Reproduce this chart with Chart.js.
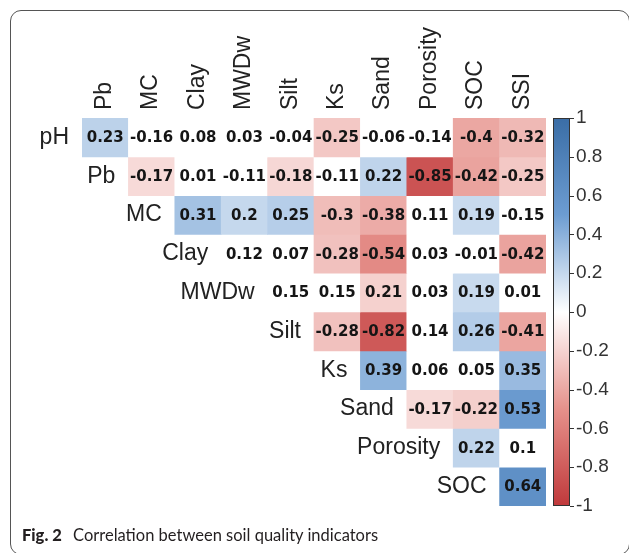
<!DOCTYPE html>
<html>
<head>
<meta charset="utf-8">
<script src="https://cdn.jsdelivr.net/npm/chart.js@4"></script>
<style>
  html, body { margin: 0; padding: 0; background: #fff; overflow: hidden; }
  #wrap { position: relative; width: 629px; height: 553px; overflow: hidden; }
  #frame { position: absolute; left: 10px; top: 10px; width: 620px; height: 545px; border: 1.5px solid #555; border-radius: 11px; box-sizing: border-box; }
  #chart { position: absolute; left: 0; top: 0; }
  #caption { position: absolute; left: 22px; top: 525px; font-family: Lato; font-size: 16.5px; color: #231f20; white-space: nowrap; }
  #caption b { margin-right: 7px; font-weight: 900; }
</style>
</head>
<body>
<div id="wrap">
  <div id="frame"></div>
  <canvas id="chart" width="629" height="553"></canvas>
  <div id="caption"><b>Fig. 2</b> Correlation between soil quality indicators</div>
</div>
<script>
document.addEventListener("DOMContentLoaded", () => {
    // row and column names of the upper triangle
    const rowNames = ["pH", "Pb", "MC", "Clay", "MWDw", "Silt", "Ks", "Sand", "Porosity", "SOC"];
    const colNames = ["Pb", "MC", "Clay", "MWDw", "Silt", "Ks", "Sand", "Porosity", "SOC", "SSI"];
    const cbTicks = [1, 0.8, 0.6, 0.4, 0.2, 0, -0.2, -0.4, -0.6, -0.8, -1];

    // correlation values, each row starts at its diagonal cell
    const rPH = [0.23, -0.16, 0.08, 0.03, -0.04, -0.25, -0.06, -0.14, -0.4, -0.32];
    const rPb = [-0.17, 0.01, -0.11, -0.18, -0.11, 0.22, -0.85, -0.42, -0.25];
    const rMC = [0.31, 0.2, 0.25, -0.3, -0.38, 0.11, 0.19, -0.15];
    const rClay = [0.12, 0.07, -0.28, -0.54, 0.03, -0.01, -0.42];
    const rMWDw = [0.15, 0.15, 0.21, 0.03, 0.19, 0.01];
    const rSilt = [-0.28, -0.82, 0.14, 0.26, -0.41];
    const rKs = [0.39, 0.06, 0.05, 0.35];
    const rSand = [-0.17, -0.22, 0.53];
    const rPorosity = [0.22, 0.1];
    const rSOC = [0.64];

    // value each cell is shaded with on the colour bar (0 = left blank)
    const sPH = [0.23, 0, 0, 0, 0, -0.25, 0, 0, -0.4, -0.32];
    const sPb = [-0.17, 0, 0, -0.18, 0, 0.22, -0.85, -0.42, -0.25];
    const sMC = [0.31, 0.2, 0.25, -0.3, -0.38, 0, 0.19, 0];
    const sClay = [0, 0, -0.28, -0.54, 0, 0, -0.42];
    const sMWDw = [0, 0, -0.21, 0, 0.19, 0];
    const sSilt = [-0.28, -0.82, 0, 0.26, -0.41];
    const sKs = [0.39, 0, 0, 0.35];
    const sSand = [-0.17, -0.22, 0.53];
    const sPorosity = [0.22, 0];
    const sSOC = [0.64];

    const corr = [rPH, rPb, rMC, rClay, rMWDw, rSilt, rKs, rSand, rPorosity, rSOC];
    const shade = [sPH, sPb, sMC, sClay, sMWDw, sSilt, sKs, sSand, sPorosity, sSOC];

    const colorStops = [[-1, "#c0393b"], [-0.5, "#e6918b"], [0, "#ffffff"], [0.5, "#6d9dd2"], [1, "#3a6da6"]];

    function hexToRgb(h) {
        return [parseInt(h.slice(1, 3), 16), parseInt(h.slice(3, 5), 16), parseInt(h.slice(5, 7), 16)];
    }

    function fillFor(v) {
        for (let k = 0; k < colorStops.length - 1; k++) {
            const [v0, c0] = colorStops[k];
            const [v1, c1] = colorStops[k + 1];
            if (v >= v0 && v <= v1) {
                const t = (v - v0) / (v1 - v0);
                const a = hexToRgb(c0), b = hexToRgb(c1);
                const c = a.map((x, n) => Math.round(x + (b[n] - x) * t));
                return `rgb(${c[0]}, ${c[1]}, ${c[2]})`;
            }
        }
        return "#ffffff";
    }

    const datasets = rowNames.map((name, i) => ({
        label: name,
        data: colNames.map((c, j) => (j >= i ? [i, i + 1] : null)),
        backgroundColor: colNames.map((c, j) => (j >= i ? fillFor(shade[i][j - i]) : "rgba(0,0,0,0)")),
        grouped: false,
        barPercentage: 1,
        categoryPercentage: 1,
        borderWidth: 0,
        yAxisID: "y"
    }));

    const corrLabels = {
        id: "corrLabels",
        afterDatasetsDraw(chart) {
            const { ctx, chartArea, scales } = chart;
            const x = scales.x, y = scales.y, cb = scales.cb;
            const cellW = chartArea.width / colNames.length;
            ctx.save();

            // numbers in the cells
            ctx.font = 'bold 15px "DejaVu Sans"';
            ctx.fillStyle = "#151515";
            ctx.textAlign = "center";
            ctx.textBaseline = "middle";
            corr.forEach((row, i) => {
                row.forEach((v, k) => {
                    ctx.fillText(String(v), x.getPixelForValue(i + k), y.getPixelForValue(i + 0.5) + 1);
                });
            });

            // row names next to the diagonal
            ctx.font = '23px "Liberation Sans"';
            ctx.fillStyle = "#222";
            ctx.textAlign = "right";
            rowNames.forEach((name, i) => {
                ctx.fillText(name, x.getPixelForValue(i) - cellW / 2 - 13, y.getPixelForValue(i + 0.5));
            });

            // colour bar
            const left = chartArea.right + 7, w = 17;
            const top = cb.getPixelForValue(1), bottom = cb.getPixelForValue(-1);
            const grad = ctx.createLinearGradient(0, top, 0, bottom);
            colorStops.forEach(([v, c]) => grad.addColorStop((1 - v) / 2, c));
            ctx.fillStyle = grad;
            ctx.fillRect(left, top, w, bottom - top);
            ctx.strokeStyle = "#333";
            ctx.lineWidth = 1;
            ctx.strokeRect(left + 0.5, top + 0.5, w - 1, bottom - top - 1);
            cbTicks.forEach(v => {
                const py = Math.round(cb.getPixelForValue(v)) + 0.5;
                ctx.beginPath();
                ctx.moveTo(left + w, py);
                ctx.lineTo(left + w + 4, py);
                ctx.stroke();
            });
            ctx.restore();
        }
    };

    new Chart(document.getElementById("chart").getContext("2d"), {
        type: "bar",
        data: { labels: colNames, datasets: datasets },
        options: {
            responsive: false,
            animation: false,
            layout: { padding: { left: 82, right: 0, top: 0, bottom: 47 } },
            plugins: { legend: { display: false }, tooltip: { enabled: false } },
            scales: {
                x: {
                    type: "category",
                    position: "top",
                    offset: true,
                    grid: { display: false, drawTicks: false },
                    border: { display: false },
                    ticks: {
                        minRotation: 90, maxRotation: 90, autoSkip: false, padding: 8, labelOffset: 27,
                        color: "#222", font: { family: "Liberation Sans", size: 23 }
                    },
                    afterFit(s) { s.height = 118; }
                },
                y: { type: "linear", min: 0, max: 10, reverse: true, display: false },
                cb: {
                    type: "linear",
                    position: "right",
                    min: -1, max: 1,
                    grid: { display: false, drawTicks: false },
                    border: { display: false },
                    afterBuildTicks(s) { s.ticks = cbTicks.map(v => ({ value: v })); },
                    afterFit(s) { s.width = 83; },
                    ticks: {
                        padding: 30, color: "#333",
                        font: { family: "Liberation Sans", size: 19 },
                        callback: v => String(Math.round(v * 10) / 10)
                    }
                }
            }
        },
        plugins: [corrLabels]
    });
});
</script>
</body>
</html>
